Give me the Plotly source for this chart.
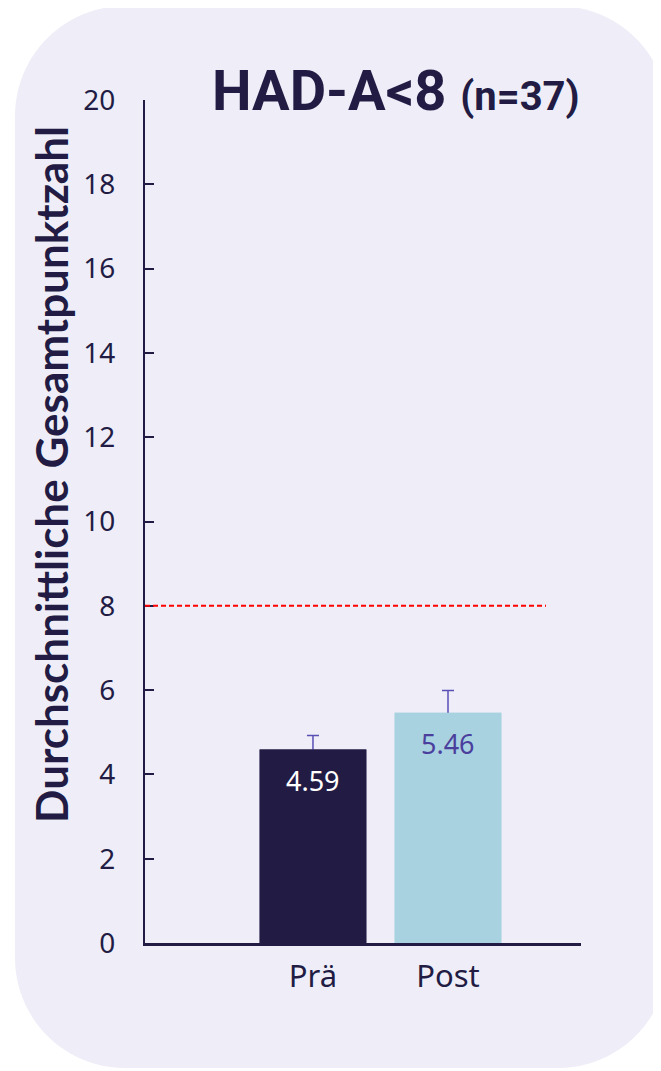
import plotly.graph_objects as go

# ---- data ----
categories = ["Prä", "Post"]
means = [4.59, 5.46]
err_plus = [0.33, 0.53]
label_texts = ["4.59", "5.46"]
threshold = 8
y_ticks = [0, 2, 4, 6, 8, 10, 12, 14, 16, 18, 20]

# ---- styles ----
NAVY = "#221C44"
BAR_COLORS = ["#221C44", "#A9D2E0"]
LABEL_COLORS = ["#FFFFFF", "#4B3F9E"]
ERR_COLOR = "#5A4FB5"
BG = "#EFEEF8"

OFF = 8  # page body margin
W, H = 661, 1071
PL, PT, PW, PH = 145, 100, 436, 843   # plot area in page pixels
L, T = PL - OFF, PT - OFF
R, B = W - L - PW, H - T - PH


def px(x):
    return (x - PL) / PW


def py(y):
    return (PT + PH - y) / PH


def rounded_rect(x0, y0, x1, y1, r):
    k = 0.5523 * r
    pts = []
    pts.append(f"M {px(x0 + r)},{py(y0)}")
    pts.append(f"L {px(x1 - r)},{py(y0)}")
    pts.append(f"C {px(x1 - r + k)},{py(y0)} {px(x1)},{py(y0 + r - k)} {px(x1)},{py(y0 + r)}")
    pts.append(f"L {px(x1)},{py(y1 - r)}")
    pts.append(f"C {px(x1)},{py(y1 - r + k)} {px(x1 - r + k)},{py(y1)} {px(x1 - r)},{py(y1)}")
    pts.append(f"L {px(x0 + r)},{py(y1)}")
    pts.append(f"C {px(x0 + r - k)},{py(y1)} {px(x0)},{py(y1 - r + k)} {px(x0)},{py(y1 - r)}")
    pts.append(f"L {px(x0)},{py(y0 + r)}")
    pts.append(f"C {px(x0)},{py(y0 + r - k)} {px(x0 + r - k)},{py(y0)} {px(x0 + r)},{py(y0)}")
    pts.append("Z")
    return " ".join(pts)


fig = go.Figure()
# bars with error bars (lower half hidden by overlaid copy)
fig.add_trace(go.Bar(
    x=categories, y=means, width=0.79,
    marker=dict(color=BAR_COLORS, line=dict(width=0)),
    error_y=dict(type="data", symmetric=True, array=err_plus,
                 color=ERR_COLOR, thickness=1.5, width=6),
    hoverinfo="skip", showlegend=False,
))
fig.add_trace(go.Bar(
    x=categories, y=means, width=0.79,
    marker=dict(color=BAR_COLORS, line=dict(width=0)),
    hoverinfo="skip", showlegend=False,
))

for c, v, t, col in zip(categories, means, label_texts, LABEL_COLORS):
    fig.add_annotation(x=c, y=v, text=t, showarrow=False, yanchor="middle", yshift=-31,
                       font=dict(family="Noto Sans, Open Sans, sans-serif", size=27, color=col))

# background rounded panel
fig.add_shape(type="path", xref="paper", yref="paper", layer="below",
              path=rounded_rect(15, 6, 668, 1068, 110),
              fillcolor=BG, line=dict(width=0))

# threshold line
fig.add_shape(type="line", xref="paper", yref="y", x0=0, x1=px(546), y0=threshold, y1=threshold,
              line=dict(color="#FF0000", width=2, dash="5px,3px"))

# title
fig.add_annotation(
    xref="paper", yref="paper", x=px(396), y=py(126), xanchor="center", yanchor="bottom",
    text="<b>HAD-A&lt;8</b> <b><span style='font-size:40px'>(n=37)</span></b>",
    showarrow=False,
    font=dict(family="Roboto, Liberation Sans, sans-serif", size=56, color=NAVY),
)

# y-axis title
fig.add_annotation(
    xref="paper", yref="paper", x=px(51), y=py(475), xanchor="center", yanchor="middle",
    text="<b>Durchschnittliche Gesamtpunktzahl</b>", textangle=-90, showarrow=False,
    font=dict(family="Lato, Noto Sans, sans-serif", size=44, color=NAVY),
)

fig.update_layout(
    width=W, height=H,
    margin=dict(l=L, r=R, t=T, b=B, pad=0),
    paper_bgcolor="#FFFFFF",
    plot_bgcolor="rgba(0,0,0,0)",
    barmode="overlay",
    font=dict(family="Noto Sans, Open Sans, sans-serif", color=NAVY),
)
fig.update_xaxes(
    type="category", range=[-1.244, 1.985],
    showline=True, linecolor=NAVY, linewidth=2.5,
    showgrid=False, zeroline=False, ticks="",
    tickfont=dict(size=31, color=NAVY), ticklabelstandoff=4,
    fixedrange=True,
)
fig.update_yaxes(
    range=[0, 20], tickvals=y_ticks,
    showline=True, linecolor=NAVY, linewidth=2,
    showgrid=False, zeroline=False,
    ticks="inside", ticklen=9, tickwidth=2, tickcolor=NAVY,
    tickfont=dict(size=28, color=NAVY), ticklabelstandoff=22,
    fixedrange=True,
)

fig.write_html("out.html")
